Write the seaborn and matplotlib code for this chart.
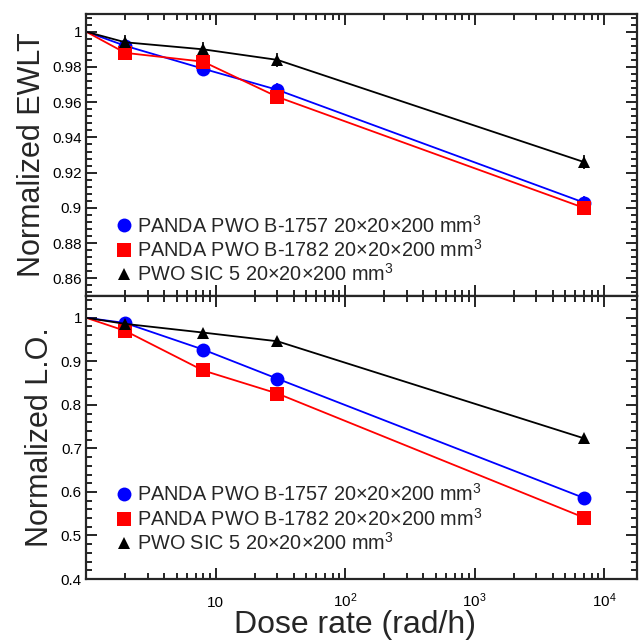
import matplotlib
matplotlib.use("Agg")
import matplotlib.pyplot as plt
import numpy as np
import pandas as pd
import seaborn as sns
from matplotlib.ticker import LogLocator, MultipleLocator, NullFormatter
from matplotlib.lines import Line2D

# ---------------- data ----------------
dose = [1, 2, 8, 30, 7000]
ewlt_b1757 = [1.0, 0.992, 0.979, 0.967, 0.903]
ewlt_b1782 = [1.0, 0.988, 0.983, 0.963, 0.900]
ewlt_sic5 = [1.0, 0.994, 0.990, 0.984, 0.926]
ewlt_err = [0.0, 0.004, 0.004, 0.004, 0.004]
lo_b1757 = [1.0, 0.988, 0.927, 0.860, 0.586]
lo_b1782 = [1.0, 0.970, 0.879, 0.826, 0.541]
lo_sic5 = [1.0, 0.986, 0.966, 0.946, 0.723]
series_labels = [
    "PANDA PWO B-1757 20×20×200 mm$^3$",
    "PANDA PWO B-1782 20×20×200 mm$^3$",
    "PWO SIC 5 20×20×200 mm$^3$",
]
xtick_vals = [10, 100, 1000, 10000]
xtick_labels = ["10", "$10^{2}$", "$10^{3}$", "$10^{4}$"]

# ---------------- style ----------------
sns.set_theme(style="ticks")
plt.rcParams["font.family"] = ["Liberation Sans", "DejaVu Sans"]
plt.rcParams["mathtext.default"] = "regular"
plt.rcParams["axes.linewidth"] = 1.6

colors = ["#0000ff", "#ff0000", "#000000"]
markers = ["o", "s", "^"]
msizes = [10, 9.5, 9]

fig = plt.figure(figsize=(6.43, 6.40), dpi=100)
ax1 = fig.add_axes([0.134, 0.5375, 0.857, 0.4405])
ax2 = fig.add_axes([0.134, 0.0953, 0.857, 0.4422])

top_series = [ewlt_b1757, ewlt_b1782, ewlt_sic5]
bot_series = [lo_b1757, lo_b1782, lo_sic5]

for ax, series in [(ax1, top_series), (ax2, bot_series)]:
    ax.set_xscale("log")
    for vals, lab, c, m, ms in zip(series, series_labels, colors, markers, msizes):
        df = pd.DataFrame({"dose": dose, "value": vals})
        sns.lineplot(data=df, x="dose", y="value", color=c, marker=m,
                     markersize=ms, markeredgewidth=0, linewidth=1.3,
                     markevery=list(range(1, len(dose))), ax=ax,
                     legend=False, errorbar=None)
    if ax is ax1:
        for vals, c in zip(series, colors):
            ax.errorbar(dose[1:], vals[1:], yerr=ewlt_err[1:], fmt="none",
                        ecolor=c, elinewidth=1.2, capsize=0, zorder=1)
    handles = [Line2D([], [], linestyle="none", marker=m, color=c,
                      markersize=ms, markeredgewidth=0)
               for c, m, ms in zip(colors, markers, msizes)]
    ax.legend(handles, series_labels, loc="lower left",
              bbox_to_anchor=(0.03, -0.01 if ax is ax1 else 0.04),
              frameon=False, fontsize=14.3, handlelength=0.75,
              handletextpad=0.3, labelspacing=0.12, borderaxespad=0.3)
    ax.set_xlim(1, 1.8e4)
    ax.set_xticks(xtick_vals)
    ax.xaxis.set_minor_locator(LogLocator(base=10, subs=np.arange(2, 10)))
    ax.xaxis.set_minor_formatter(NullFormatter())
    ax.tick_params(which="both", direction="in", top=True, right=True,
                   colors="black", width=1.2)
    ax.tick_params(which="major", length=8, labelsize=11, pad=3)
    ax.tick_params(which="minor", length=4)
    ax.set_xlabel("")

ax1.set_ylim(0.85, 1.01)
ax1.set_yticks([0.86, 0.88, 0.9, 0.92, 0.94, 0.96, 0.98, 1.0],
               ["0.86", "0.88", "0.9", "0.92", "0.94", "0.96", "0.98", "1"])
ax1.yaxis.set_minor_locator(MultipleLocator(0.004))
ax1.set_xticklabels([])
ax1.set_ylabel("Normalized EWLT", fontsize=22, labelpad=4)

ax2.set_ylim(0.4, 1.05)
ax2.set_yticks([0.4, 0.5, 0.6, 0.7, 0.8, 0.9, 1.0],
               ["0.4", "0.5", "0.6", "0.7", "0.8", "0.9", "1"])
ax2.yaxis.set_minor_locator(MultipleLocator(0.02))
ax2.set_xticks(xtick_vals, xtick_labels)
ax2.tick_params(axis="x", which="major", pad=20)
for lbl in ax2.get_xticklabels():
    lbl.set_verticalalignment("baseline")
ax2.set_ylabel("Normalized L.O.", fontsize=22, labelpad=4)
ax2.set_xlabel("Dose rate (rad/h)", fontsize=23)
ax2.xaxis.set_label_coords(0.487, -0.108)

fig.savefig("out.png", dpi=100)
